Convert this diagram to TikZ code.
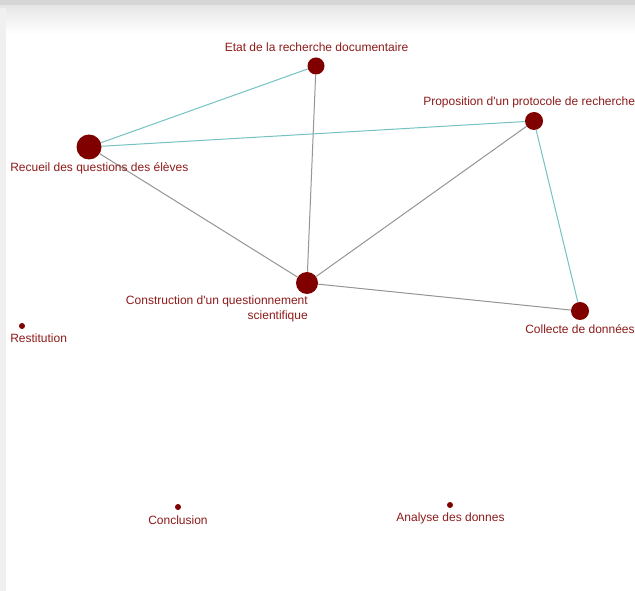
\documentclass[tikz,border=0pt]{standalone}
\usepackage{fontspec}
\setmainfont{Liberation Sans}[Ligatures=TeXOff]
\usetikzlibrary{positioning,backgrounds}

\definecolor{nodered}{HTML}{800000}
\definecolor{textred}{HTML}{8E1B1B}
\definecolor{tealedge}{HTML}{74C2C2}
\definecolor{grayedge}{HTML}{959595}

\tikzset{
  dot/.style={circle, fill=nodered, inner sep=0pt, minimum size=#1},
  lbl/.style={text=textred, inner sep=0pt, font=\fontsize{9}{11.25}\selectfont},
  tealline/.style={tealedge, line width=0.75pt},
  grayline/.style={grayedge, line width=0.75pt}
}

\begin{document}
\begin{tikzpicture}[x=0.75pt,y=-0.75pt]
\useasboundingbox (0,0) rectangle (635,591);
\clip (0,0) rectangle (635,591);

% nodes
\node[dot=12.75pt] (etat) at (316,66) {};
\node[dot=13.5pt] (prop) at (534,121) {};
\node[dot=18.75pt] (recueil) at (89,147) {};
\node[dot=16.5pt] (constr) at (307,283) {};
\node[dot=13.5pt] (collecte) at (580,311) {};
\node[dot=4.5pt] (restit) at (22,326) {};
\node[dot=4.5pt] (concl) at (178,507) {};
\node[dot=4.5pt] (analyse) at (450,505) {};

\begin{scope}[on background layer]
% frame shadow
\fill[white] (0,0) rectangle (635,591);
\shade[top color=black!10, bottom color=white] (0,5) rectangle (635,34);
\fill[black!16] (0,0) rectangle (635,5);
\fill[black!6] (0,8) rectangle (6,591);

% edges
\draw[tealline] (recueil) -- (etat);
\draw[tealline] (recueil) -- (prop);
\draw[tealline] (prop) -- (collecte);
\draw[grayline] (etat) -- (constr);
\draw[grayline] (recueil) -- (constr);
\draw[grayline] (constr) -- (prop);
\draw[grayline] (constr) -- (collecte);
\end{scope}

% labels
\node[lbl] (etatlbl) at (316.5,47) {Etat de la recherche documentaire};
\node[lbl, anchor=west] (proplbl) at (423,102) {Proposition d'un protocole de recherche};
\node[lbl, anchor=west] (recueillbl) at (10,168) {Recueil des questions des élèves};
\node[lbl, anchor=north east, align=right] (constrlbl) at (308,296)
  {Construction d'un questionnement\\scientifique};
\node[lbl, anchor=west] (collectelbl) at (525,329) {Collecte de données};
\node[lbl, anchor=west] (restitlbl) at (10,338) {Restitution};
\node[lbl] (concllbl) at (178,520) {Conclusion};
\node[lbl] (analyselbl) at (450.5,518) {Analyse des donnes};

\end{tikzpicture}
\end{document}
